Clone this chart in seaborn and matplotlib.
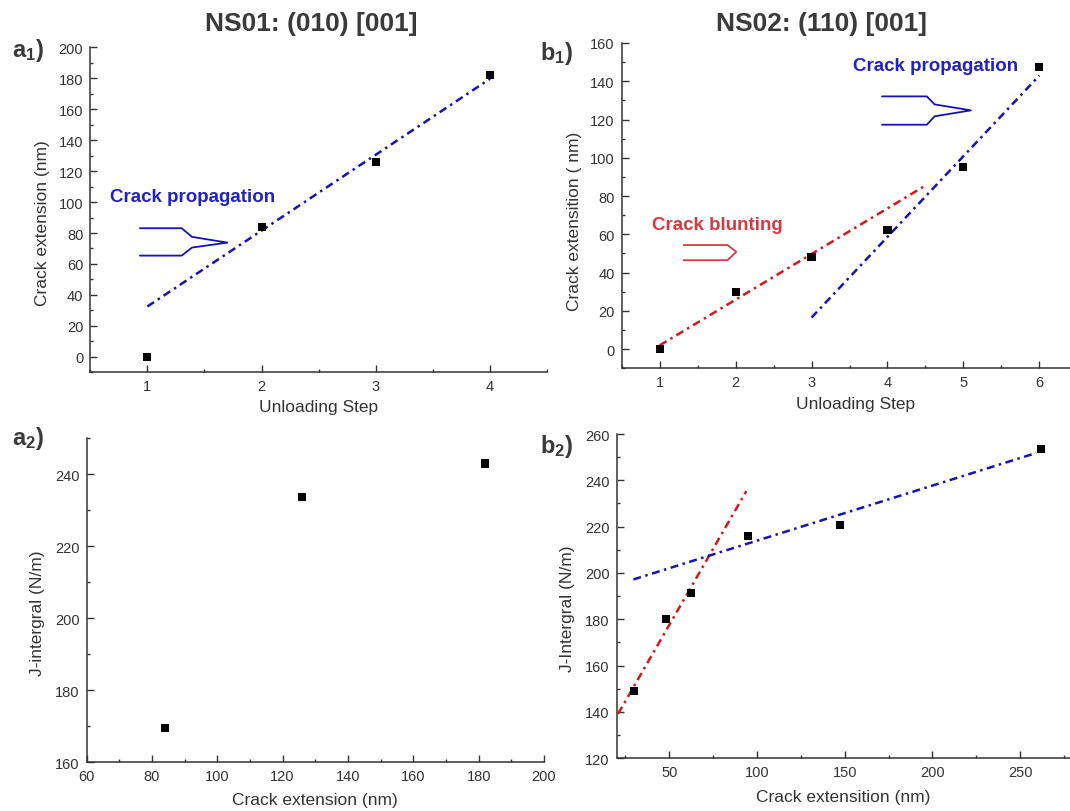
import numpy as np
import pandas as pd
import matplotlib
matplotlib.use('Agg')
import matplotlib.pyplot as plt
import seaborn as sns

###############################################################################
# data
a1_step = [1, 2, 3, 4]
a1_crack = [0, 84, 126, 182]
a1_fit_x = [1, 4]
a1_fit_y = [32.5, 179.7]

b1_step = [1, 2, 3, 4, 5, 6]
b1_crack = [0, 30, 48, 62.5, 95, 147.5]
b1_blunt_x = [1, 4.5]
b1_blunt_y = [2, 85.5]
b1_prop_x = [3, 6]
b1_prop_y = [16.5, 143]

a2_crack = [84, 126, 182]
a2_j = [169.5, 233.8, 243.0]

b2_crack = [30, 48, 62.5, 95, 147.5, 262]
b2_j = [148.9, 180.1, 191.2, 215.8, 220.7, 253.7]
b2_blunt_x = [20.8, 93.9]
b2_blunt_y = [139.2, 235.3]
b2_prop_x = [29.5, 259.2]
b2_prop_y = [197.2, 251.8]

titles = ['NS01: (010) [001]', 'NS02: (110) [001]']

###############################################################################
sns.set_theme(style='ticks')
plt.rcParams['font.family'] = ['Liberation Sans', 'DejaVu Sans']
plt.rcParams['mathtext.fontset'] = 'custom'
plt.rcParams['mathtext.rm'] = 'Liberation Sans'
plt.rcParams['mathtext.bf'] = 'Liberation Sans:bold'

dark = '#333333'
blue_line = '#1414b4'
red_line = '#d21818'
blue_txt = '#2222c4'
red_txt = '#d53a40'
dashdot = (0, (3.2, 1.8, 1, 1.8))

W, H = 1070, 812
fig = plt.figure(figsize=(W/100, H/100), dpi=100)

def px_axes(l, r, t, b):
    return fig.add_axes([l/W, 1-b/H, (r-l)/W, (b-t)/H])

ax_a1 = px_axes(90.2, 547.3, 48.3, 373.3)
ax_b1 = px_axes(621.7, 1077.3, 44, 369.3)
ax_a2 = px_axes(86.5, 544, 439.3, 763.3)
ax_b2 = px_axes(616.7, 1072.7, 435, 759.3)

def style(ax, xlim, ylim, xmaj, xmin, ymaj, ymin):
    ax.set_xlim(xlim); ax.set_ylim(ylim)
    ax.set_xticks(xmaj); ax.set_xticks(xmin, minor=True)
    ax.set_yticks(ymaj); ax.set_yticks(ymin, minor=True)
    for s in ['top', 'right']:
        ax.spines[s].set_visible(False)
    for s in ['left', 'bottom']:
        ax.spines[s].set_linewidth(1.1)
        ax.spines[s].set_color(dark)
    ax.tick_params(which='both', direction='in', color=dark, width=1.0,
                   labelsize=10.5, labelcolor=dark, pad=5)
    ax.tick_params(which='major', length=5)
    ax.tick_params(which='minor', length=2.5)
    ax.set_facecolor('white')

def points(ax, x, y):
    sns.scatterplot(x=x, y=y, ax=ax, marker='s', s=34, color='black',
                    edgecolor='none', legend=False, zorder=5)

def fit(ax, x, y, c):
    sns.lineplot(x=x, y=y, ax=ax, color=c, lw=1.8, linestyle=dashdot,
                 legend=False, zorder=4)

# a1
points(ax_a1, a1_step, a1_crack)
fit(ax_a1, a1_fit_x, a1_fit_y, blue_line)
style(ax_a1, (0.5, 4.5), (-10, 200), [1, 2, 3, 4], np.arange(0.5, 4.6, 0.5),
      np.arange(0, 201, 20), np.arange(-10, 201, 10))
ax_a1.set_ylabel('Crack extension (nm)', fontsize=12.5, color=dark)
ax_a1.set_xlabel('Unloading Step', fontsize=12.5, color=dark)
ax_a1.yaxis.set_label_coords(-0.088, 0.461)
ax_a1.xaxis.set_label_coords(0.5, -0.082)
ax_a1.text(0.673, 100.9, 'Crack propagation', color=blue_txt, fontsize=13.5,
           fontweight='bold', va='baseline')
ax_a1.plot([0.935, 1.301, 1.391, 1.701, 1.391, 1.301, 0.935],
           [83.1, 83.1, 77.5, 73.8, 70.6, 65.4, 65.4], color=blue_line, lw=1.3)

# b1
points(ax_b1, b1_step, b1_crack)
fit(ax_b1, b1_blunt_x, b1_blunt_y, red_line)
fit(ax_b1, b1_prop_x, b1_prop_y, blue_line)
style(ax_b1, (0.5, 6.5), (-10, 160), [1, 2, 3, 4, 5, 6], np.arange(0.5, 6.6, 0.5),
      np.arange(0, 161, 20), np.arange(-10, 161, 10))
ax_b1.set_ylabel('Crack extensition ( nm)', fontsize=12.5, color=dark)
ax_b1.set_xlabel('Unloading Step', fontsize=12.5, color=dark)
ax_b1.yaxis.set_label_coords(-0.087, 0.456)
ax_b1.xaxis.set_label_coords(0.514, -0.085)
ax_b1.text(3.545, 146, 'Crack propagation', color=blue_txt, fontsize=13.5,
           fontweight='bold', va='baseline')
ax_b1.plot([3.929, 4.518, 4.622, 5.099, 4.622, 4.518, 3.929],
           [132.1, 132.1, 127.9, 124.8, 121.7, 117.3, 117.3], color=blue_line, lw=1.3)
ax_b1.text(0.904, 62.7, 'Crack blunting', color=red_txt, fontsize=13.5,
           fontweight='bold', va='baseline')
ax_b1.plot([1.316, 1.895, 2.009, 1.895, 1.316],
           [54.4, 54.4, 50.9, 46.5, 46.5], color=red_txt, lw=1.3)

# a2
points(ax_a2, a2_crack, a2_j)
style(ax_a2, (60, 200), (160, 250), np.arange(60, 201, 20), np.arange(60, 201, 10),
      np.arange(160, 241, 20), np.arange(160, 251, 10))
ax_a2.set_ylabel('J-intergral (N/m)', fontsize=12.5, color=dark)
ax_a2.set_xlabel('Crack extension (nm)', fontsize=12.5, color=dark)
ax_a2.yaxis.set_label_coords(-0.091, 0.463)
ax_a2.xaxis.set_label_coords(0.5, -0.092)

# b2
points(ax_b2, b2_crack, b2_j)
fit(ax_b2, b2_blunt_x, b2_blunt_y, red_line)
fit(ax_b2, b2_prop_x, b2_prop_y, blue_line)
style(ax_b2, (20, 280), (120, 260), np.arange(50, 251, 50), np.arange(25, 276, 25),
      np.arange(120, 261, 20), np.arange(120, 261, 10))
ax_b2.set_ylabel('J-Intergral (N/m)', fontsize=12.5, color=dark)
ax_b2.set_xlabel('Crack extensition (nm)', fontsize=12.5, color=dark)
ax_b2.yaxis.set_label_coords(-0.091, 0.463)
ax_b2.xaxis.set_label_coords(0.497, -0.095)

# titles and panel labels
fig.text(311/W, 1-24/H, titles[0], ha='center', va='center', fontsize=19,
         fontweight='bold', color='#3a3a3a')
fig.text(821/W, 1-24/H, titles[1], ha='center', va='center', fontsize=19,
         fontweight='bold', color='#3a3a3a')
for lab, x, y in [(r'$\mathbf{a_1}$)', 12, 57), (r'$\mathbf{b_1}$)', 540, 60),
                  (r'$\mathbf{a_2}$)', 12, 445), (r'$\mathbf{b_2}$)', 540, 453)]:
    fig.text(x/W, 1-y/H, lab, ha='left', va='baseline', fontsize=17,
             fontweight='bold', color='#3a3a3a')

fig.savefig('out.png', dpi=100, facecolor='white')
